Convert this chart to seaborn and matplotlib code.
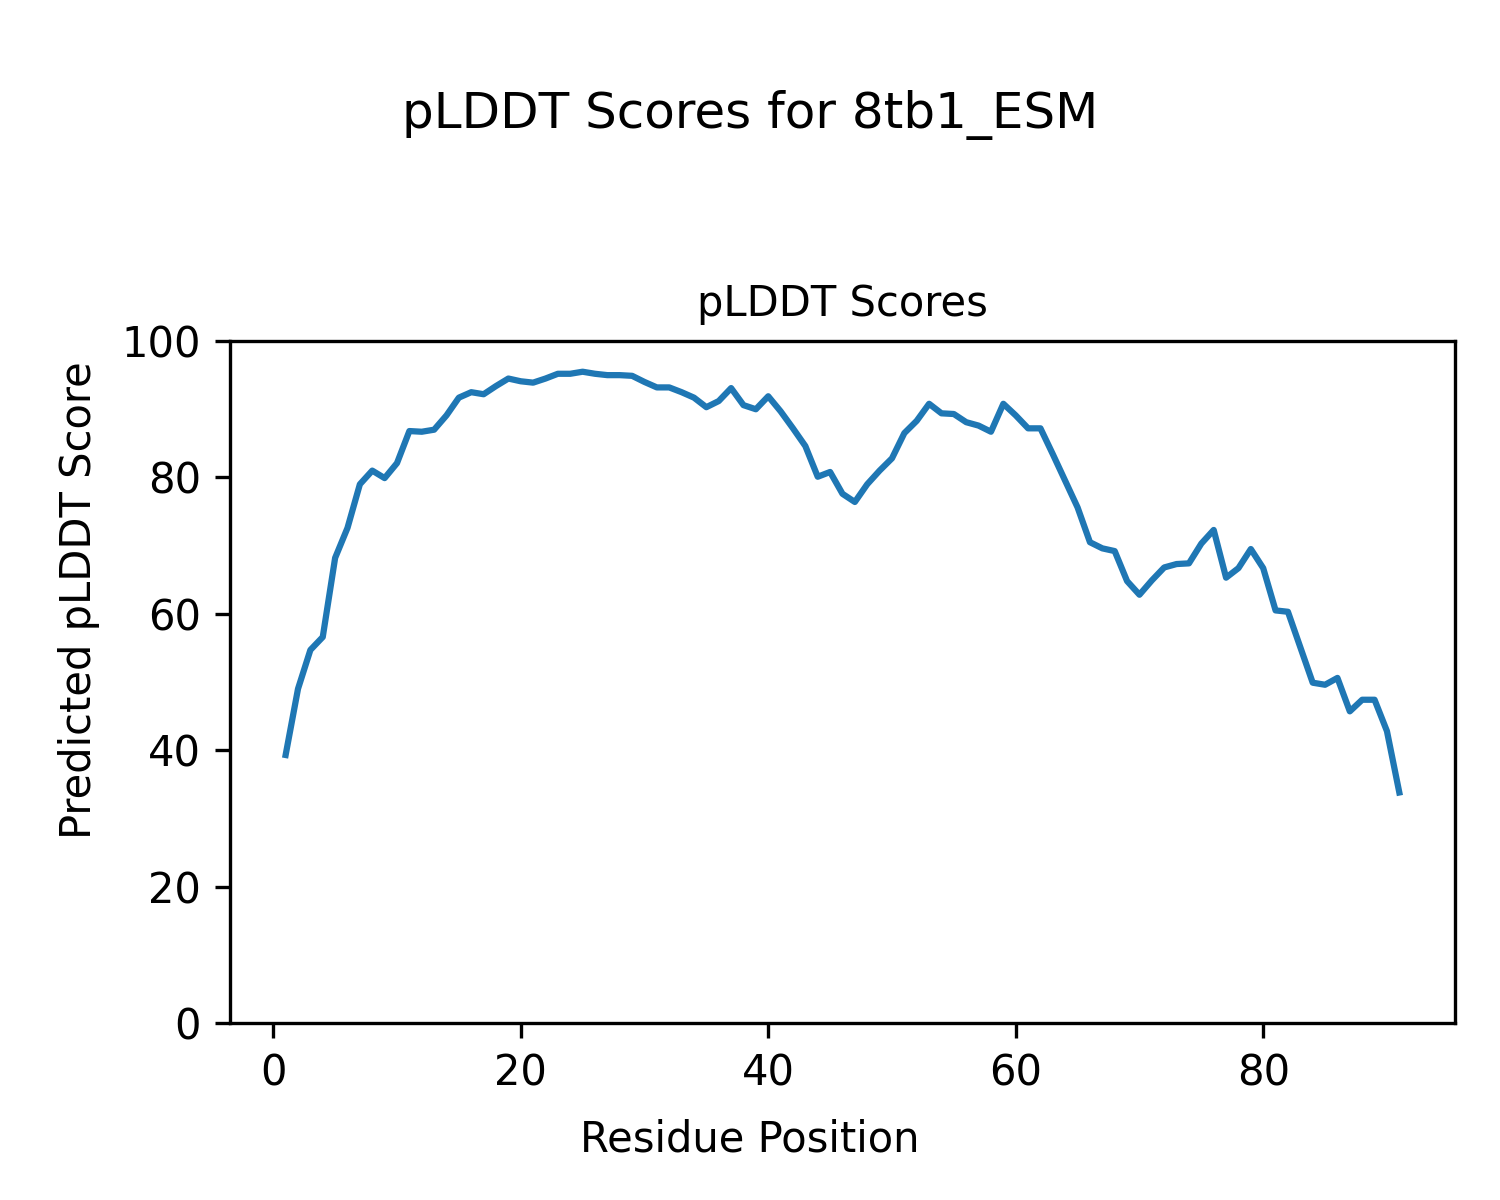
import numpy as np
import pandas as pd
import seaborn as sns
import matplotlib.pyplot as plt

# Scores per residue
residuos = np.arange(1, 92)
plddt = np.array([
    39.3, 49.0, 54.7, 56.6, 68.2, 72.6, 79.0, 81.0, 79.9, 82.1,
    86.8, 86.7, 87.0, 89.1, 91.7, 92.5, 92.2, 93.4, 94.5, 94.1,
    93.9, 94.5, 95.2, 95.2, 95.5, 95.2, 95.0, 95.0, 94.9, 94.0,
    93.2, 93.2, 92.5, 91.7, 90.3, 91.2, 93.1, 90.6, 90.0, 91.9,
    89.7, 87.2, 84.6, 80.1, 80.8, 77.6, 76.4, 79.0, 81.0, 82.8,
    86.5, 88.3, 90.8, 89.4, 89.3, 88.1, 87.6, 86.7, 90.8, 89.1,
    87.2, 87.2, 83.4, 79.5, 75.6, 70.5, 69.6, 69.2, 64.8, 62.8,
    64.9, 66.8, 67.3, 67.4, 70.3, 72.3, 65.3, 66.7, 69.5, 66.7,
    60.5, 60.3, 55.1, 49.9, 49.6, 50.6, 45.7, 47.4, 47.4, 42.8,
    33.8,
])

df = pd.DataFrame({"Residue Position": residuos, "pLDDT": plddt})

fig = plt.figure(figsize=(5, 4), dpi=300)
ax = fig.add_axes([0.1533, 0.1475, 0.8167, 0.5683])

sns.lineplot(data=df, x="Residue Position", y="pLDDT", ax=ax,
             color="#1f77b4", linewidth=1.5)

ax.set_ylim(0, 100)
ax.set_title("pLDDT Scores", fontsize=10)
ax.set_xlabel("")
ax.set_ylabel("")

# labels shared at figure level
fig.supxlabel("Residue Position", fontsize=10, y=0.05, va="center")
fig.supylabel("Predicted pLDDT Score", fontsize=10, x=0.053, ha="center")
fig.suptitle("pLDDT Scores for 8tb1_ESM", fontsize=12, y=0.925)

plt.savefig("out.png", dpi=300)
